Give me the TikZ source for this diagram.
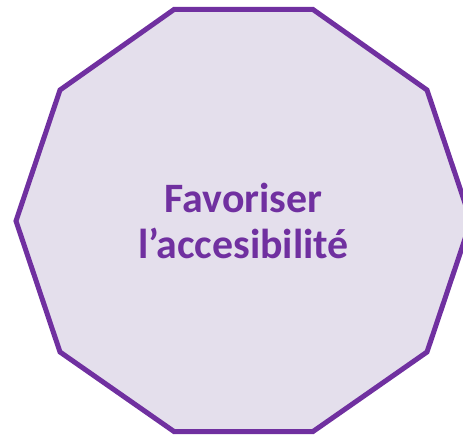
\documentclass[tikz,border=0pt]{standalone}
\usepackage{fontspec}
\setmainfont{Carlito}
\definecolor{purp}{HTML}{7030A0}
\definecolor{lav}{HTML}{E4DFEC}
\begin{document}
\begin{tikzpicture}[x=1bp,y=-1bp,
  deca/.style={draw=purp,fill=lav,line width=5bp,line join=miter},
  lbl/.style={text=purp,font=\bfseries\fontsize{42}{46}\selectfont,align=center}]
\useasboundingbox (0,0) rectangle (463,435);
\draw[deca] (174,9.5) -- (313,9.5) -- (427,90) -- (471,221) -- (427,352) -- (313,431.5) -- (174,431.5) -- (60,352) -- (16,221) -- (60,90) -- cycle;
\node[lbl] (t) at (243.5,221) {Favoriser\\l’accesibilité};
\end{tikzpicture}
\end{document}
